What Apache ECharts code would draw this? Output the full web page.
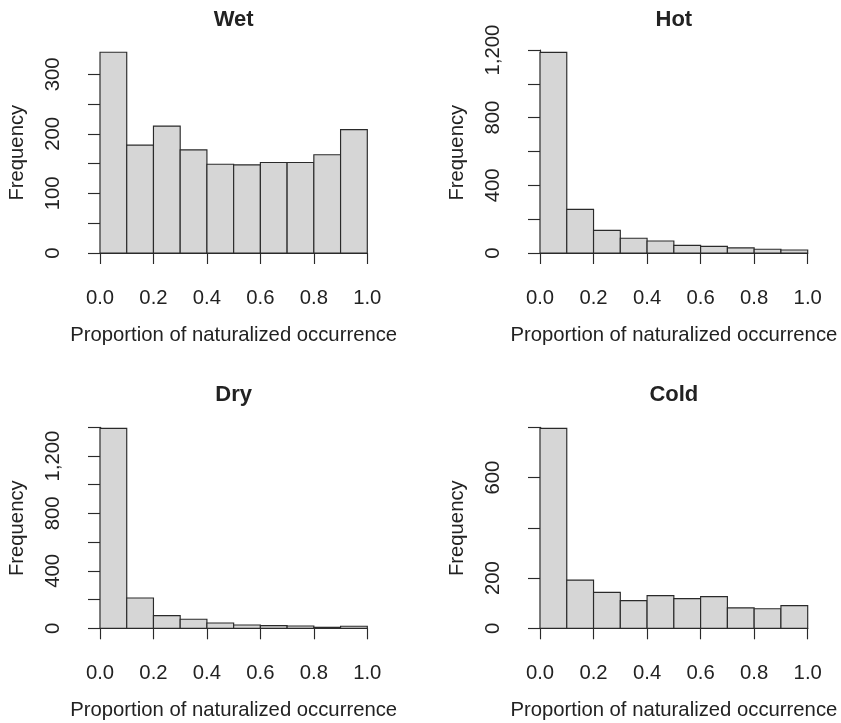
<!DOCTYPE html>
<html>
<head>
<meta charset="utf-8">
<script src="https://cdn.jsdelivr.net/npm/echarts@6/dist/echarts.min.js"></script>
<style>
html,body{margin:0;padding:0;background:#fff;}
#chart{width:841px;height:723px;}
</style>
</head>
<body>
<div id="chart"></div>
<script>
// ---- data ----
const binEdges = [0, 0.1, 0.2, 0.3, 0.4, 0.5, 0.6, 0.7, 0.8, 0.9, 1.0];
const wetCounts  = [337, 181, 213, 173, 149, 148, 152, 152, 165, 207];
const hotCounts  = [1186, 258, 134, 87, 71, 45, 39, 30, 22, 18];
const dryCounts  = [1393, 211, 88, 63, 37, 23, 19, 16, 7, 14];
const coldCounts = [796, 192, 143, 110, 130, 118, 126, 81, 78, 90];
const panelTitles = ['Wet', 'Hot', 'Dry', 'Cold'];
const xTickLabels = ['0.0', '0.2', '0.4', '0.6', '0.8', '1.0'];
const wetYLabels  = [0, 100, 200, 300];
const hotYLabels  = [0, 400, 800, 1200];
const dryYLabels  = [0, 400, 800, 1200];
const coldYLabels = [0, 200, 600];
const xLabel = 'Proportion of naturalized occurrence';
const yLabel = 'Frequency';

// ---- layout ----
const FONT = 'Liberation Sans';
const FS = 20.3;
const INK = '#222';
const LINE = '#2a2a2a';
const LW = 1.15;
const panels = [
  {counts: wetCounts,  yLabels: wetYLabels,  yMax: 300,  yInt: 50,  left: 100, top: 74.3,  width: 267.3, height: 178.7, xOff: 8.7, yOff: 10.7, boxMid: 152.7, titleY: 20},
  {counts: hotCounts,  yLabels: hotYLabels,  yMax: 1200, yInt: 200, left: 540, top: 50,    width: 267.7, height: 203,   xOff: 8.7, yOff: 10.7, boxMid: 152.7, titleY: 20},
  {counts: dryCounts,  yLabels: dryYLabels,  yMax: 1400, yInt: 200, left: 100, top: 427.3, width: 267.3, height: 201,   xOff: 7.7, yOff: 10.7, boxMid: 528.2, titleY: 395},
  {counts: coldCounts, yLabels: coldYLabels, yMax: 800,  yInt: 200, left: 540, top: 427.3, width: 267.7, height: 201,   xOff: 7.7, yOff: 10.7, boxMid: 528.2, titleY: 395}
];

function fmtNum(v) {
  return String(v).replace(/\B(?=(\d{3})+(?!\d))/g, ',');
}

const grid = [], xAxis = [], yAxis = [], series = [], graphic = [];
panels.forEach((p, i) => {
  grid.push({left: p.left, top: p.top, width: p.width, height: p.height, containLabel: false});
  xAxis.push({
    type: 'value', gridIndex: i, min: 0, max: 1, interval: 0.2, offset: p.xOff,
    axisLine: {show: true, lineStyle: {color: LINE, width: LW}},
    axisTick: {show: true, length: 11, lineStyle: {color: LINE, width: LW}},
    splitLine: {show: false},
    axisLabel: {
      margin: 27, color: INK, fontFamily: FONT, fontSize: FS,
      formatter: v => { const k = Math.round(v * 5); return xTickLabels[k] !== undefined ? xTickLabels[k] : ''; }
    },
    name: xLabel, nameLocation: 'middle', nameGap: 64,
    nameTextStyle: {color: INK, fontFamily: FONT, fontSize: FS}
  });
  yAxis.push({
    type: 'value', gridIndex: i, min: 0, max: p.yMax, interval: p.yInt, offset: p.yOff,
    axisLine: {show: true, lineStyle: {color: LINE, width: LW}},
    axisTick: {show: true, length: 12, lineStyle: {color: LINE, width: LW}},
    splitLine: {show: false},
    axisLabel: {
      rotate: 90, margin: 26, color: INK, fontFamily: FONT, fontSize: FS,
      formatter: v => p.yLabels.indexOf(v) >= 0 ? fmtNum(v) : ''
    }
  });
  const data = p.counts.map((c, k) => [binEdges[k], binEdges[k + 1], c]);
  series.push({
    type: 'custom', xAxisIndex: i, yAxisIndex: i, data: data, clip: false,
    encode: {x: [0, 1], y: 2},
    renderItem: (params, api) => {
      const a = api.coord([api.value(0), 0]);
      const b = api.coord([api.value(1), api.value(2)]);
      return {
        type: 'rect',
        shape: {x: a[0], y: b[1], width: b[0] - a[0], height: a[1] - b[1]},
        style: {fill: '#d6d6d6', stroke: LINE, lineWidth: LW}
      };
    }
  });
  const boxCenterX = p.left + p.width / 2;
  graphic.push({
    type: 'text', x: boxCenterX, y: p.titleY,
    style: {text: panelTitles[i], font: 'bold 22px "' + FONT + '"', fill: INK, textAlign: 'center', textVerticalAlign: 'middle'}
  });
  graphic.push({
    type: 'text', x: p.left - 82.5, y: p.boxMid, rotation: Math.PI / 2,
    style: {text: yLabel, font: FS + 'px "' + FONT + '"', fill: INK, textAlign: 'center', textVerticalAlign: 'middle'}
  });
});

const chart = echarts.init(document.getElementById('chart'), null, {renderer: 'canvas'});
chart.setOption({
  animation: false,
  backgroundColor: '#fff',
  grid: grid, xAxis: xAxis, yAxis: yAxis, series: series, graphic: graphic
});
</script>
</body>
</html>
